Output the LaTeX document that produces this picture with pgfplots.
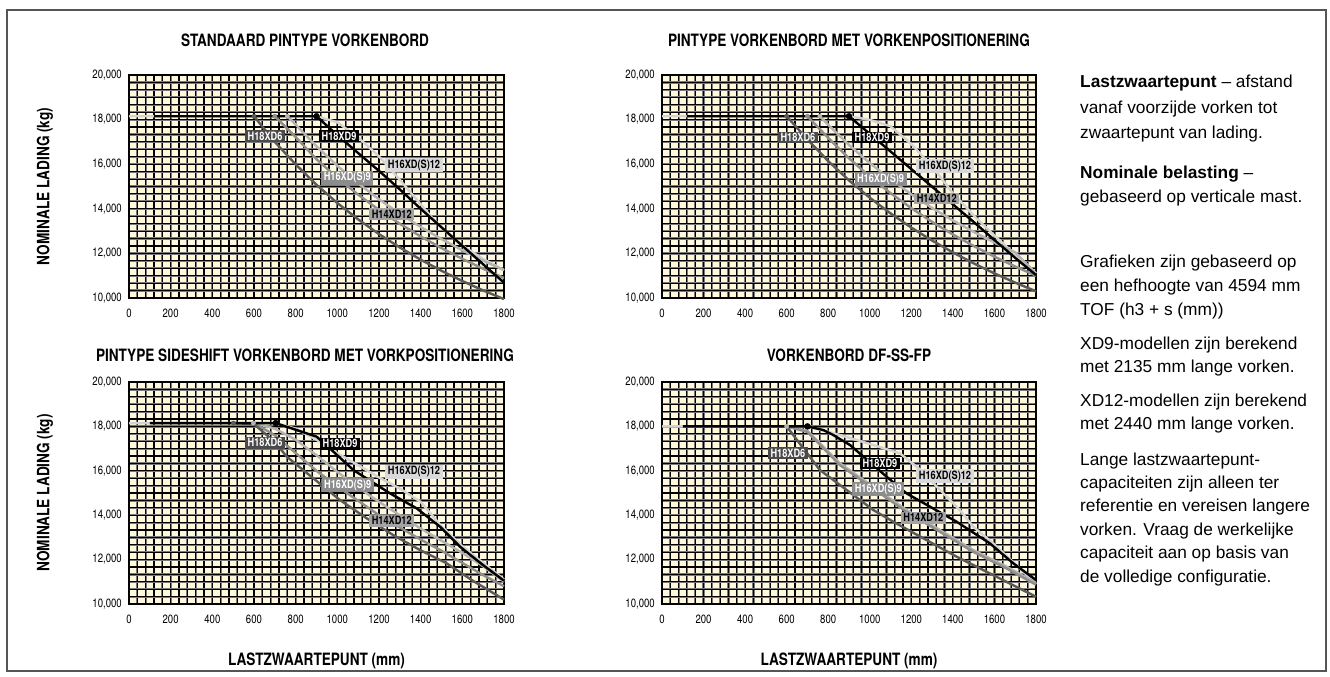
\documentclass[border=0pt]{standalone}
\usepackage{pgfplots}
\pgfplotsset{compat=1.18}
\usepackage{fontspec}
\setmainfont{Liberation Sans}
\newfontfamily\cond[FakeStretch=0.8]{TeX Gyre Heros}
\definecolor{cream}{HTML}{FFF8DC}
\definecolor{gridgrey}{HTML}{7A7A7A}
\definecolor{bordergrey}{HTML}{555555}
\definecolor{lsix}{HTML}{5A5A5A}
\definecolor{bsix}{HTML}{4A4A4A}
\definecolor{ltwelve}{HTML}{D3D3D3}
\definecolor{btwelve}{HTML}{D9D9D9}
\definecolor{lnine}{HTML}{8E8E8E}
\definecolor{bnine}{HTML}{8C8C8C}
\definecolor{lfour}{HTML}{B3B3B3}
\definecolor{bfour}{HTML}{A3A3A3}
\newcommand\cf[1]{\cond\fontsize{#1}{#1}\selectfont}
\tikzset{
  ttl/.style={font=\cf{17}\bfseries, inner sep=0pt},
  lab/.style={font=\cf{11.5}\bfseries, inner xsep=2.5pt, inner ysep=1.6pt},
  txt/.style={font=\fontsize{17.3}{20}\selectfont, anchor=base west, inner sep=0pt},
}
\pgfplotsset{
  chart/.style={
    scale only axis, anchor=north west,
    xmin=0, xmax=1800, ymin=10000, ymax=20000,
    xtick={0,200,...,1800}, ytick={10000,12000,...,20000},
    minor x tick num=4, minor y tick num=5, grid=both,
    major grid style={draw=gridgrey, line width=0.55pt, double=black, double distance=1.1pt},
    minor grid style={draw=gridgrey, line width=0.55pt, double=black, double distance=1.1pt},
    major tick length=0pt, minor tick length=0pt,
    axis background/.style={fill=cream},
    axis line style={black, line width=1.4pt},
    /pgf/number format/assume math mode=true,
    /pgf/number format/1000 sep={},
    scaled y ticks=false,
    ticklabel style={font=\cf{12}, inner sep=0pt},
    xticklabel style={anchor=center, yshift=-15pt},
    yticklabel style={anchor=east, xshift=-7pt, /pgf/number format/1000 sep={,}},
    clip=false,
  },
  c6/.style={lsix, line width=2.4pt},
  c9/.style={black, line width=2.4pt},
  c12/.style={ltwelve, line width=2.4pt},
  cs9/.style={lnine, line width=2.4pt},
  c14/.style={lfour, line width=2.4pt},
}
\begin{document}
\begin{tikzpicture}
\path[use as bounding box, fill=white] (0pt,0pt) rectangle (1330pt,-677pt);
\draw[draw=bordergrey, line width=1.3pt] (7pt,-10pt) rectangle (1326pt,-671pt);

% ---------------- Chart A
\begin{axis}[chart, at={(129pt,-75pt)}, width=375pt, height=223pt]
\addplot[c12] coordinates {(0,18150)(900,18150)(1000,17880)(1100,17200)(1200,16350)(1300,15300)(1400,14200)(1450,13650)(1500,13150)(1600,12350)(1700,11750)(1800,11250)};
\addplot[c14] coordinates {(760,18150)(800,17777)(900,16802)(1000,15928)(1100,15141)(1200,14428)(1300,13779)(1400,13186)(1500,12641)(1600,12141)(1700,11677)(1800,11249)};
\addplot[cs9] coordinates {(700,18150)(800,17215)(900,16224)(1000,15388)(1100,14635)(1200,13951)(1300,13329)(1400,12760)(1500,12237)(1600,11756)(1700,11311)(1800,10898)};
\addplot[c6] coordinates {(600,18150)(700,17000)(800,15990)(900,15075)(1000,14258)(1100,13526)(1200,12865)(1300,12266)(1400,11720)(1500,11220)(1600,10762)(1700,10339)(1800,9950)};
\addplot[c9] coordinates {(120,18150)(900,18150)(1000,17300)(1100,16500)(1200,15700)(1300,14870)(1400,14000)(1500,13170)(1600,12340)(1700,11510)(1800,10690)};
\addplot[only marks, mark=*, mark size=2.2pt, lsix] coordinates {(600,18150)};
\addplot[only marks, mark=*, mark size=2.2pt, lnine] coordinates {(700,18150)};
\addplot[only marks, mark=*, mark size=2.2pt, lfour] coordinates {(760,18150)};
\addplot[only marks, mark=*, mark size=3pt, black] coordinates {(900,18150)};
\node[lab, fill=bsix, text=white] at (axis cs:653,17264) {H18XD6};
\node[lab, fill=black, text=white] at (axis cs:1008,17264) {H18XD9};
\node[lab, fill=btwelve, text=black] at (axis cs:1368,15964) {H16XD(S)12};
\node[lab, fill=bnine, text=white] at (axis cs:1048,15395) {H16XD(S)9};
\node[lab, fill=bfour, text=black] at (axis cs:1261,13766) {H14XD12};
\end{axis}

% ---------------- Chart B
\begin{axis}[chart, at={(662pt,-75pt)}, width=374pt, height=223pt]
\addplot[c12] coordinates {(0,18150)(900,18150)(1000,17990)(1100,17700)(1200,16900)(1300,15900)(1400,14700)(1500,13700)(1600,12800)(1700,11950)(1800,11100)};
\addplot[c14] coordinates {(760,18150)(800,17769)(900,16864)(1000,16052)(1100,15317)(1200,14649)(1300,14039)(1400,13479)(1500,12964)(1600,12488)(1700,12046)(1800,11100)};
\addplot[cs9] coordinates {(700,18150)(800,17178)(900,16265)(1000,15444)(1100,14702)(1200,14028)(1300,13412)(1400,12849)(1500,12332)(1600,11853)(1700,11412)(1800,11000)};
\addplot[c6] coordinates {(600,18150)(700,17107)(800,16138)(900,15273)(1000,14495)(1100,13793)(1200,13156)(1300,12575)(1400,12044)(1500,11555)(1600,11104)(1700,10688)(1800,10301)};
\addplot[c9] coordinates {(120,18150)(900,18150)(1000,17360)(1100,16570)(1200,15780)(1300,14990)(1400,14200)(1500,13410)(1600,12600)(1700,11800)(1800,11030)};
\addplot[only marks, mark=*, mark size=2.2pt, lsix] coordinates {(600,18150)};
\addplot[only marks, mark=*, mark size=2.2pt, lnine] coordinates {(700,18150)};
\addplot[only marks, mark=*, mark size=2.2pt, lfour] coordinates {(760,18150)};
\addplot[only marks, mark=*, mark size=3pt, black] coordinates {(900,18150)};
\node[lab, fill=bsix, text=white] at (axis cs:654,17204) {H18XD6};
\node[lab, fill=black, text=white] at (axis cs:1011,17204) {H18XD9};
\node[lab, fill=btwelve, text=black] at (axis cs:1362,15904) {H16XD(S)12};
\node[lab, fill=bnine, text=white] at (axis cs:1052,15336) {H16XD(S)9};
\node[lab, fill=bfour, text=black] at (axis cs:1322,14454) {H14XD12};
\end{axis}

% ---------------- Chart C
\begin{axis}[chart, at={(129pt,-382pt)}, width=375pt, height=222pt]
\addplot[c12] coordinates {(0,18150)(704,18150)(800,17900)(900,17400)(1000,16800)(1100,16250)(1200,15700)(1300,15200)(1400,14600)(1500,13500)(1600,12600)(1700,11850)(1800,11100)};
\addplot[c14] coordinates {(600,18150)(700,17900)(800,17400)(900,16700)(1000,15950)(1100,15250)(1200,14600)(1300,14000)(1400,13400)(1500,12850)(1600,12300)(1700,11700)(1800,11000)};
\addplot[cs9] coordinates {(600,18150)(700,17600)(800,16800)(900,16000)(1000,15300)(1100,14650)(1200,14000)(1300,13450)(1400,12900)(1500,12400)(1600,11850)(1700,11300)(1800,10800)};
\addplot[c6] coordinates {(500,18150)(600,18100)(700,17300)(757,16640)(885,15660)(1013,14680)(1141,13860)(1269,13100)(1397,12430)(1525,11830)(1650,11050)(1800,10200)};
\addplot[c9] coordinates {(100,18150)(704,18150)(800,17850)(901,17537)(981,16861)(1077,16035)(1253,14983)(1381,14307)(1493,13481)(1589,12580)(1700,11750)(1800,11050)};
\addplot[only marks, mark=*, mark size=2.2pt, lsix] coordinates {(501,18150)};
\addplot[only marks, mark=*, mark size=2.2pt, lfour] coordinates {(597,18150)};
\addplot[only marks, mark=*, mark size=3pt, black] coordinates {(704,18150)};
\node[lab, fill=bsix, text=white] at (axis cs:653,17266) {H18XD6};
\node[lab, fill=black, text=white] at (axis cs:1013,17221) {H18XD9};
\node[lab, fill=btwelve, text=black] at (axis cs:1368,15960) {H16XD(S)12};
\node[lab, fill=bnine, text=white] at (axis cs:1050,15359) {H16XD(S)9};
\node[lab, fill=bfour, text=black] at (axis cs:1261,13752) {H14XD12};
\end{axis}

% ---------------- Chart D
\begin{axis}[chart, at={(662pt,-382pt)}, width=374pt, height=222pt]
\addplot[c12] coordinates {(0,18000)(700,18000)(857,17612)(1017,17161)(1145,16786)(1250,16000)(1338,15133)(1434,14232)(1498,13481)(1594,12730)(1700,11800)(1800,10900)};
\addplot[c14] coordinates {(600,18000)(700,17800)(857,16335)(1017,15284)(1177,14232)(1338,13331)(1498,12430)(1659,11679)(1800,10950)};
\addplot[cs9] coordinates {(600,18000)(700,17750)(857,16250)(1017,15200)(1177,14150)(1338,13250)(1498,12350)(1659,11600)(1800,10870)};
\addplot[c6] coordinates {(600,18000)(760,16035)(889,15133)(1017,14232)(1113,13707)(1258,12956)(1418,12130)(1578,11378)(1800,10327)};
\addplot[c9] coordinates {(100,18000)(700,18000)(776,17837)(824,17612)(905,17161)(1081,15734)(1177,14983)(1290,14383)(1418,13706)(1578,12730)(1691,11829)(1800,11078)};
\addplot[only marks, mark=*, mark size=2.2pt, lfour] coordinates {(600,18000)};
\addplot[only marks, mark=*, mark size=3pt, black] coordinates {(700,18000)};
\node[lab, fill=bsix, text=white] at (axis cs:606,16801) {H18XD6};
\node[lab, fill=black, text=white] at (axis cs:1049,16335) {H18XD9};
\node[lab, fill=btwelve, text=black] at (axis cs:1362,15749) {H16XD(S)12};
\node[lab, fill=bnine, text=white] at (axis cs:1041,15164) {H16XD(S)9};
\node[lab, fill=bfour, text=black] at (axis cs:1258,13887) {H14XD12};
\end{axis}

% titles and axis labels
\node[ttl] at (305pt,-40pt) {STANDAARD PINTYPE VORKENBORD};
\node[ttl] at (849pt,-40pt) {PINTYPE VORKENBORD MET VORKENPOSITIONERING};
\node[ttl] at (305pt,-355pt) {PINTYPE SIDESHIFT VORKENBORD MET VORKPOSITIONERING};
\node[ttl] at (849pt,-355pt) {VORKENBORD DF-SS-FP};
\node[ttl, rotate=90] at (45pt,-186.5pt) {NOMINALE LADING (kg)};
\node[ttl, rotate=90] at (45pt,-493pt) {NOMINALE LADING (kg)};
\node[ttl] at (316.5pt,-661pt) {LASTZWAARTEPUNT (mm)};
\node[ttl] at (849pt,-661pt) {LASTZWAARTEPUNT (mm)};

% side text
\node[txt] at (1080pt,-88pt) {\textbf{Lastzwaartepunt} – afstand};
\node[txt] at (1080pt,-113pt) {vanaf voorzijde vorken tot};
\node[txt] at (1080pt,-138pt) {zwaartepunt van lading.};
\node[txt] at (1080pt,-178pt) {\textbf{Nominale belasting} –};
\node[txt] at (1080pt,-202pt) {gebaseerd op verticale mast.};
\node[txt] at (1080pt,-267pt) {Grafieken zijn gebaseerd op};
\node[txt] at (1080pt,-291pt) {een hefhoogte van 4594 mm};
\node[txt] at (1080pt,-315pt) {TOF (h3 + s (mm))};
\node[txt] at (1080pt,-349pt) {XD9-modellen zijn berekend};
\node[txt] at (1080pt,-372pt) {met 2135 mm lange vorken.};
\node[txt] at (1080pt,-406pt) {XD12-modellen zijn berekend};
\node[txt] at (1080pt,-429pt) {met 2440 mm lange vorken.};
\node[txt] at (1080pt,-465pt) {Lange lastzwaartepunt-};
\node[txt] at (1080pt,-488.4pt) {capaciteiten zijn alleen ter};
\node[txt] at (1080pt,-511.8pt) {referentie en vereisen langere};
\node[txt] at (1080pt,-535.2pt) {vorken. Vraag de werkelijke};
\node[txt] at (1080pt,-558.6pt) {capaciteit aan op basis van};
\node[txt] at (1080pt,-582pt) {de volledige configuratie.};
\end{tikzpicture}
\end{document}
